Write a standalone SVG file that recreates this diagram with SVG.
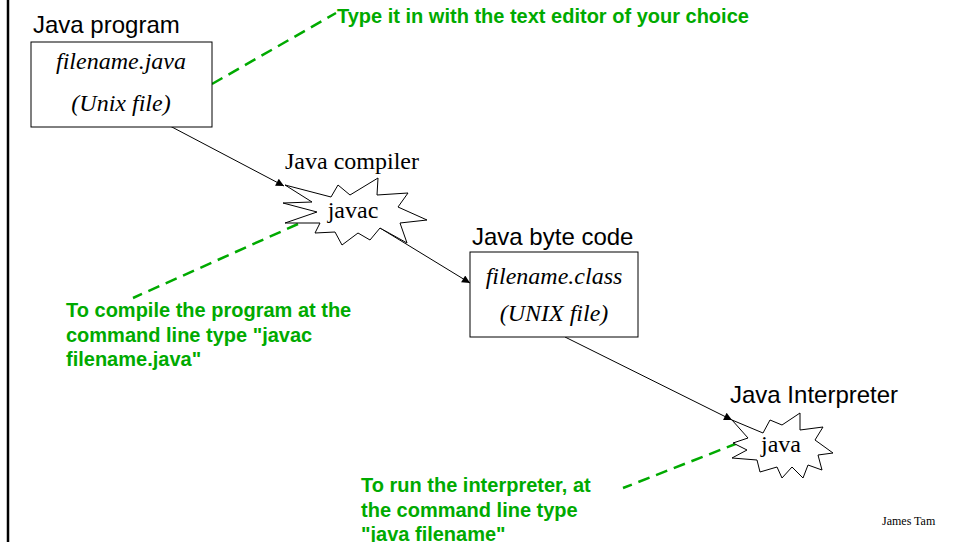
<svg xmlns="http://www.w3.org/2000/svg" width="959" height="542" viewBox="0 0 959 542">
<defs>
<style>
.lbl{font-family:"Liberation Sans",Arial,sans-serif;font-size:24px;fill:#000}
.ser{font-family:"Liberation Serif","Times New Roman",serif;font-size:24px;fill:#000}
.it{font-family:"Liberation Serif","Times New Roman",serif;font-size:24px;font-style:italic;fill:#000;text-anchor:middle}
.note{font-family:"Liberation Sans",Arial,sans-serif;font-size:20px;font-weight:bold;fill:#00aa00}
.box{fill:#fff;stroke:#000;stroke-width:1}
.star{fill:#fff;stroke:#000;stroke-width:1;stroke-linejoin:miter}
.arr{stroke:#000;stroke-width:1;fill:none;marker-end:url(#ah)}
.dash{stroke:#00aa00;stroke-width:2.5;fill:none;stroke-dasharray:12 7}
</style>
<marker id="ah" viewBox="0 0 10 10" refX="10" refY="5" markerWidth="11" markerHeight="8" markerUnits="userSpaceOnUse" orient="auto">
<path d="M0,0 L10,5 L0,10 z" fill="#000"/>
</marker>
</defs>
<rect width="959" height="542" fill="#fff"/>
<line x1="8" y1="0" x2="8" y2="542" stroke="#000" stroke-width="2.5"/>

<g id="connectors">
<line class="arr" x1="170" y1="126" x2="284" y2="186"/>
<line class="arr" x1="380" y1="228" x2="470" y2="283"/>
<line class="arr" x1="565" y1="337" x2="732" y2="420"/>
<line class="dash" x1="212" y1="84" x2="336" y2="13"/>
<line class="dash" x1="298" y1="224" x2="133" y2="298"/>
<line class="dash" x1="738" y1="443" x2="623" y2="488"/>
</g>

<g id="java-program">
<text class="lbl" x="33" y="33">Java program</text>
<rect class="box" x="31" y="42" width="181" height="85"/>
<text class="it" x="121" y="69">filename.java</text>
<text class="it" x="121" y="111">(Unix file)</text>
</g>

<g id="java-compiler">
<text class="ser" x="285" y="169">Java compiler</text>
<polygon class="star" points="285,185 331,197 338,185 350,195 378,178 377,195 408,193 398,207 427,220 400,223 407,243 380,228 370,240 358,233 342,245 335,232 315,233 320,223 285,223 317,212 283,203 312,202"/>
<text class="ser" x="353" y="218" text-anchor="middle">javac</text>
</g>

<g id="java-byte-code">
<text class="lbl" x="472" y="245">Java byte code</text>
<rect class="box" x="470" y="252" width="168" height="85"/>
<text class="it" x="554" y="284">filename.class</text>
<text class="it" x="554" y="321">(UNIX file)</text>
</g>

<g id="java-interpreter">
<text class="lbl" x="730" y="403">Java Interpreter</text>
<polygon class="star" points="732,420 763,433 770,420 782,425 800,413 800,430 823,427 815,440 833,453 818,455 822,470 808,465 803,478 792,467 782,478 777,467 760,472 757,460 732,458 747,450 733,443 748,438"/>
<text class="ser" x="781" y="452" text-anchor="middle">java</text>
</g>

<g id="note-editor">
<text class="note" x="337" y="23">Type it in with the text editor of your choice</text>
</g>

<g id="note-compile">
<text class="note" x="66" y="317">To compile the program at the</text>
<text class="note" x="66" y="342">command line type "javac</text>
<text class="note" x="66" y="366">filename.java"</text>
</g>

<g id="note-run">
<text class="note" x="361" y="492">To run the interpreter, at</text>
<text class="note" x="361" y="517">the command line type</text>
<text class="note" x="361" y="541">"java filename"</text>
</g>

<text x="882" y="525" font-family="'Liberation Serif','Times New Roman',serif" font-size="12" fill="#000">James Tam</text>
</svg>
